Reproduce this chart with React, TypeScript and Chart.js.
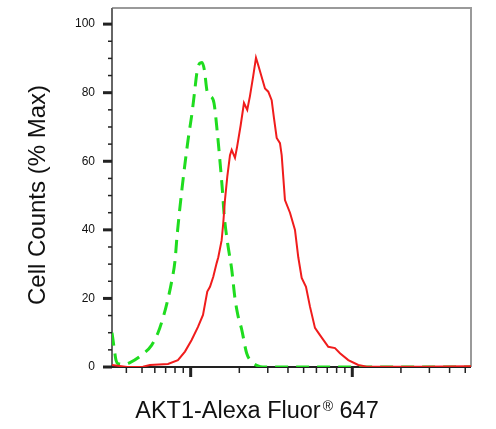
import React, { useEffect, useRef } from "react";
import { Chart, registerables } from "chart.js";

Chart.register(...registerables);

// Red: AKT1 stained sample (fluorescence intensity, % max)
const redX = [326, 404, 507, 560, 724, 834, 922, 1014, 1110, 1192, 1267, 1317, 1380, 1448, 1482, 1555, 1591, 1630, 1685, 1751, 1794, 1880, 1934, 2039, 2137, 2239, 2327, 2440, 2536, 2620, 2750, 2883, 3021, 3171, 3277, 3406, 3569, 3657, 3832, 4117, 4420, 4633, 4863, 5170, 5473, 5876, 6311, 7104, 7815, 8391, 9446, 10893, 12277, 26230, 54270];
const redY = [0.6, 0, 0.1, 0.6, 0.9, 2, 4.5, 7.9, 11.7, 15.2, 22, 23.4, 26.3, 30.3, 32, 37, 42, 48.7, 55.5, 61.8, 63.3, 61, 64, 70.5, 77, 75, 79, 85, 90.2, 88, 84.6, 81.2, 80.3, 77.8, 72.6, 66.8, 65.3, 61.8, 48.7, 45, 40, 32, 26, 23.4, 17.6, 11.4, 9.3, 5.9, 5.5, 4, 2, 0.6, 0.1, 0.1, 0.2];

// Green dashed: control
const greenX = [326, 335, 345, 355, 387, 421, 498, 574, 628, 674, 714, 766, 800, 823, 884, 962, 1019, 1056, 1094, 1134, 1175, 1217, 1262, 1326, 1394, 1461, 1518, 1569, 1614, 1694, 1794, 1880, 1962, 2068, 2221, 2395, 2609, 2802, 54270];
const greenY = [10, 6, 2, 1, 0.8, 1.3, 3.5, 6.4, 10, 14.3, 18.7, 25.4, 31, 38, 52, 66, 74, 80, 86, 88.5, 88.8, 86.5, 80.5, 79, 77, 68.5, 60, 52, 44, 36, 28.5, 20, 15, 11, 4, 1.5, 0.3, 0, 0];

const xMin = 326;
const xMax = 54270;
const yMin = 0;
const yMax = 104.7;

const xMajorTicks = [1000, 10000];
const xMinorTicks = [400, 500, 600, 700, 800, 900, 2000, 3000, 4000, 5000, 6000, 7000, 8000, 9000, 20000, 30000, 40000, 50000];
const yMajorTicks = [0, 20, 40, 60, 80, 100];
const yMinorTicks = [5, 10, 15, 25, 30, 35, 45, 50, 55, 65, 70, 75, 85, 90, 95];

const yTitle = "Cell Counts (% Max)";
const xTitleMain = "AKT1-Alexa Fluor";
const xTitleSup = "®";
const xTitleEnd = " 647";

const FONT = '"Liberation Sans", Arial, Helvetica, sans-serif';

const decorPlugin = {
  id: "decor",
  beforeDatasetsDraw(chart: any) {
    const { ctx, chartArea: a, scales } = chart;
    const xs = scales.x;
    const ys = scales.y;
    const line = (x1: number, y1: number, x2: number, y2: number) => {
      ctx.beginPath();
      ctx.moveTo(x1, y1);
      ctx.lineTo(x2, y2);
      ctx.stroke();
    };
    ctx.save();
    ctx.lineCap = "butt";
    // frame top/right
    ctx.strokeStyle = "#9a9a9a";
    ctx.lineWidth = 2;
    ctx.beginPath();
    ctx.moveTo(a.left, a.top);
    ctx.lineTo(a.right, a.top);
    ctx.lineTo(a.right, a.bottom);
    ctx.stroke();
    // left axis
    ctx.strokeStyle = "#666";
    line(a.left, a.top, a.left, a.bottom + 1);
    // bottom axis
    ctx.strokeStyle = "#222";
    line(a.left - 1, a.bottom, a.right, a.bottom);
    // y ticks
    ctx.strokeStyle = "#222";
    ctx.lineWidth = 3;
    yMajorTicks.forEach((v) => {
      const p = ys.getPixelForValue(v);
      line(a.left - 9, p, a.left, p);
    });
    ctx.lineWidth = 1.5;
    yMinorTicks.forEach((v) => {
      const p = ys.getPixelForValue(v);
      line(a.left - 4, p, a.left, p);
    });
    // x ticks
    ctx.lineWidth = 3;
    xMajorTicks.forEach((v) => {
      const p = xs.getPixelForValue(v);
      line(p, a.bottom, p, a.bottom + 10);
    });
    ctx.lineWidth = 1.5;
    xMinorTicks.forEach((v) => {
      const p = xs.getPixelForValue(v);
      line(p, a.bottom, p, a.bottom + 6);
    });
    ctx.restore();
  },
  afterDraw(chart: any) {
    const { ctx } = chart;
    ctx.save();
    ctx.fillStyle = "#111";
    // y title
    ctx.font = `24px ${FONT}`;
    ctx.textAlign = "center";
    ctx.textBaseline = "middle";
    ctx.translate(38, 195);
    ctx.rotate(-Math.PI / 2);
    ctx.fillText(yTitle, 0, 0);
    ctx.setTransform(1, 0, 0, 1, 0, 0);
    // x title with superscript
    const mainFont = `23.5px ${FONT}`;
    const supFont = `14px ${FONT}`;
    ctx.textAlign = "left";
    ctx.textBaseline = "alphabetic";
    ctx.font = mainFont;
    const w1 = ctx.measureText(xTitleMain).width;
    const w3 = ctx.measureText(xTitleEnd).width;
    ctx.font = supFont;
    const w2 = ctx.measureText(xTitleSup).width;
    const total = w1 + 2 + w2 + w3;
    let x = 257 - total / 2;
    const base = 418;
    ctx.font = mainFont;
    ctx.fillText(xTitleMain, x, base);
    x += w1 + 2;
    ctx.font = supFont;
    ctx.fillText(xTitleSup, x, base - 7);
    x += w2;
    ctx.font = mainFont;
    ctx.fillText(xTitleEnd, x, base);
    ctx.restore();
  },
};

export default function App() {
  const ref = useRef<HTMLCanvasElement | null>(null);
  useEffect(() => {
    if (!ref.current) return;
    const chart = new Chart(ref.current, {
      type: "line",
      data: {
        datasets: [
          {
            label: "AKT1",
            data: redX.map((x, i) => ({ x, y: redY[i] })),
            borderColor: "#f01c1c",
            borderWidth: 2,
            pointRadius: 0,
            tension: 0,
            fill: false,
          },
          {
            label: "Control",
            data: greenX.map((x, i) => ({ x, y: greenY[i] })),
            borderColor: "#1fdc1f",
            borderWidth: 3,
            borderDash: [13, 8],
            pointRadius: 0,
            cubicInterpolationMode: "monotone",
            fill: false,
          },
        ],
      },
      options: {
        animation: false,
        responsive: false,
        devicePixelRatio: 1,
        layout: { padding: { left: 0, right: 25, top: 8, bottom: 0 } },
        plugins: { legend: { display: false }, tooltip: { enabled: false } },
        scales: {
          x: {
            type: "logarithmic",
            min: xMin,
            max: xMax,
            grid: { display: false },
            border: { display: false },
            ticks: { display: false },
            afterFit: (s: any) => {
              s.height = 62;
              s.paddingLeft = 0;
              s.paddingRight = 0;
            },
          },
          y: {
            type: "linear",
            min: yMin,
            max: yMax,
            grid: { display: false, drawTicks: false },
            border: { display: false },
            ticks: {
              padding: 17,
              color: "#111",
              font: { family: FONT, size: 12 },
            },
            afterBuildTicks: (s: any) => {
              s.ticks = yMajorTicks.map((v) => ({ value: v }));
            },
            afterFit: (s: any) => {
              s.width = 112;
              s.paddingTop = 0;
              s.paddingBottom = 0;
            },
          },
        },
      },
      plugins: [decorPlugin],
    });
    return () => chart.destroy();
  }, []);
  return (
    <div style={{ position: "absolute", left: 0, top: 0, width: 496, height: 429, background: "#fff" }}>
      <canvas ref={ref} width={496} height={429} style={{ width: 496, height: 429 }} />
    </div>
  );
}
